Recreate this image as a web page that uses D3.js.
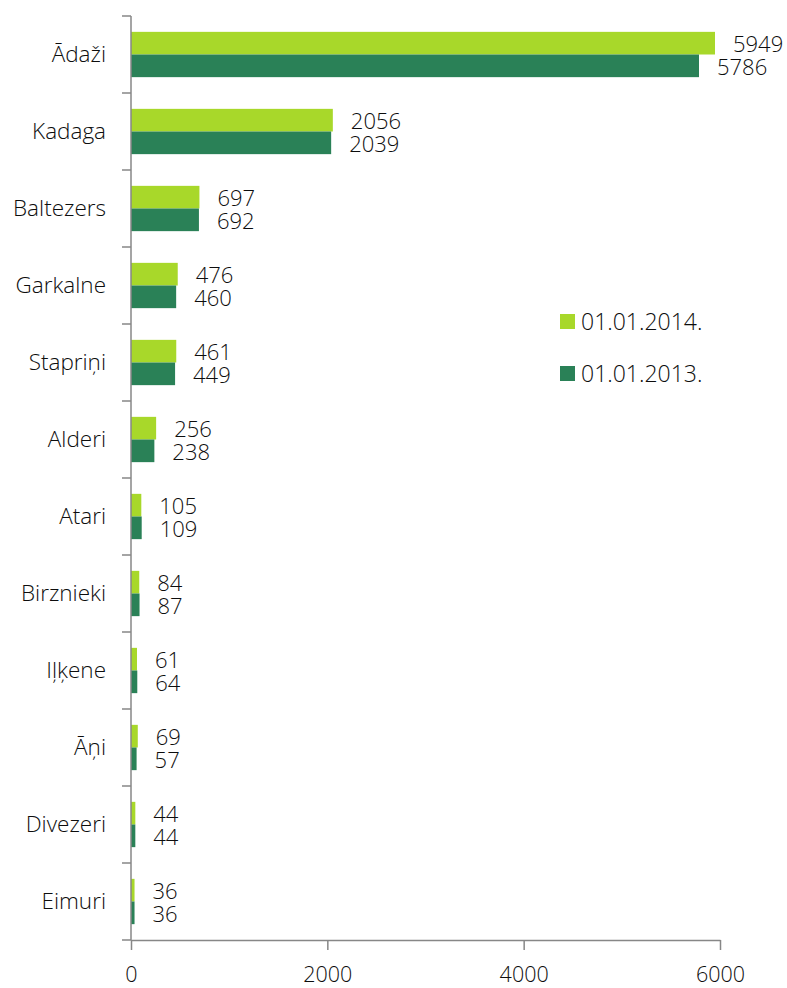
<!DOCTYPE html>
<html>
<head>
<meta charset="utf-8">
<script src="https://cdn.jsdelivr.net/npm/d3@7"></script>
<style>
  body { margin: 0; background: #fff; }
  text { font-family: "Open Sans", sans-serif; font-weight: 300; fill: #0d0d0d; }
  .axis path, .axis line { stroke: #878787; stroke-width: 1.5; }
</style>
</head>
<body>
<div class="chart"></div>
<script>
const width = 787;
const height = 988;

// data
const places = ['Ādaži', 'Kadaga', 'Baltezers', 'Garkalne', 'Stapriņi', 'Alderi', 'Atari', 'Birznieki', 'Iļķene', 'Āņi', 'Divezeri', 'Eimuri'];
const values2014 = [5949, 2056, 697, 476, 461, 256, 105, 84, 61, 69, 44, 36];
const values2013 = [5786, 2039, 692, 460, 449, 238, 109, 87, 64, 57, 44, 36];
const seriesNames = ['01.01.2014.', '01.01.2013.'];
const xTicks = [0, 2000, 4000, 6000];

const colors = ['#a8d82a', '#2a8157'];

const plotLeft = 131, plotRight = 720, plotTop = 16, plotBottom = 940;

const svg = d3.select('.chart').append('svg')
    .attr('width', width)
    .attr('height', height)
    .attr('viewBox', `0 0 ${width} ${height}`);

const xScale = d3.scaleLinear().domain([0, 6000]).range([plotLeft, plotRight]);
const yScale = d3.scaleBand().domain(places).range([plotTop, plotBottom]).paddingInner(0).paddingOuter(0);
// two bars inside each band
const inner = d3.scaleBand().domain([0, 1]).range([0, yScale.bandwidth()]).paddingOuter(0.7).paddingInner(0);

const rows = places.map((p, i) => ({ name: p, vals: [values2014[i], values2013[i]] }));

/* bars */
const groups = svg.selectAll('g.row')
    .data(rows)
    .enter()
    .append('g')
    .attr('class', 'row')
    .attr('transform', d => `translate(0, ${yScale(d.name)})`);

groups.selectAll('rect')
    .data(d => d.vals.map((v, k) => ({ v, k })))
    .enter()
    .append('rect')
    .attr('x', xScale(0))
    .attr('y', d => inner(d.k))
    .attr('width', d => xScale(d.v) - xScale(0))
    .attr('height', inner.bandwidth())
    .attr('fill', d => colors[d.k]);

groups.selectAll('text')
    .data(d => d.vals.map((v, k) => ({ v, k })))
    .enter()
    .append('text')
    .attr('x', d => xScale(d.v) + 18)
    .attr('y', d => inner(d.k) + inner.bandwidth() / 2 + 1)
    .attr('dy', '0.35em')
    .attr('font-size', 22)
    .text(d => d.v);

/* y axis */
const yAxis = svg.append('g')
    .attr('class', 'axis')
    .attr('transform', `translate(${plotLeft}, 0)`)
    .call(d3.axisLeft(yScale).tickSize(0).tickPadding(25))
    .call(g => g.select('.domain').remove());
yAxis.selectAll('text').attr('font-size', 22.5).attr('dy', '0.35em');

// tick marks between categories
svg.append('g')
    .attr('class', 'axis')
    .selectAll('line')
    .data(d3.range(places.length + 1))
    .enter()
    .append('line')
    .attr('x1', plotLeft - 9)
    .attr('x2', plotLeft)
    .attr('y1', i => plotTop + i * yScale.step())
    .attr('y2', i => plotTop + i * yScale.step());

svg.append('line')
    .attr('x1', plotLeft).attr('x2', plotLeft)
    .attr('y1', plotTop).attr('y2', plotBottom)
    .attr('stroke', '#878787').attr('stroke-width', 1.5);

/* x axis */
const xAxis = svg.append('g')
    .attr('class', 'axis')
    .attr('transform', `translate(0, ${plotBottom})`)
    .call(d3.axisBottom(xScale).tickValues(xTicks).tickSize(10).tickSizeOuter(0).tickPadding(17).tickFormat(d3.format('d')));
xAxis.selectAll('text').attr('font-size', 21.5);

/* legend */
const legend = svg.append('g').attr('transform', 'translate(560, 314)');
seriesNames.forEach((name, i) => {
    const item = legend.append('g').attr('transform', `translate(0, ${i * 52})`);
    item.append('rect').attr('width', 15).attr('height', 15).attr('fill', colors[i]);
    item.append('text').attr('x', 21).attr('y', 8).attr('dy', '0.35em')
        .attr('font-size', 23).text(name);
});
</script>
</body>
</html>
